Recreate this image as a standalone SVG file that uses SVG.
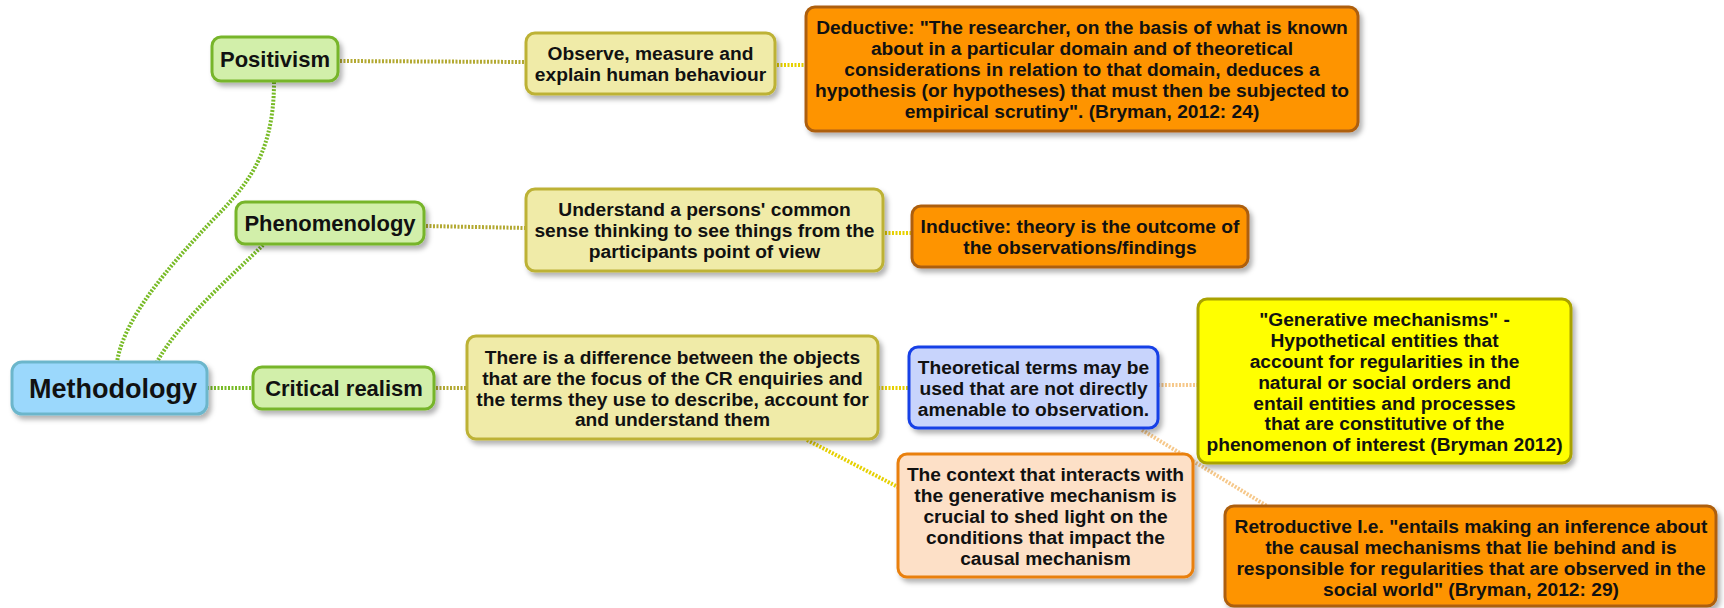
<svg xmlns="http://www.w3.org/2000/svg" width="1724" height="608" viewBox="0 0 1724 608">
  <defs>
    <filter id="shadow" x="-10%" y="-10%" width="130%" height="140%">
      <feDropShadow dx="3" dy="4" stdDeviation="2.5" flood-color="#000" flood-opacity="0.3"/>
    </filter>
    <style>
      .box { stroke-width: 3; filter: url(#shadow); }
      .root { fill: #9bd8fc; stroke: #6cb6cb; }
      .lvl1 { fill: #d2efaa; stroke: #77b52a; }
      .lvl2 { fill: #f0eba8; stroke: #bdb236; }
      .orange { fill: #fe9400; stroke: #ad5f10; }
      .yellow { fill: #ffff00; stroke: #a9a200; }
      .blue { fill: #c8d4fc; stroke: #1840e6; }
      .peach { fill: #fde0c7; stroke: #e9800f; }
      text { font-family: "Liberation Sans", Arial, sans-serif; font-weight: bold; fill: #111; text-anchor: middle; }
      .t0 { font-size: 27px; }
      .t1 { font-size: 22px; }
      .t2 { font-size: 19.2px; }
      .link { fill: none; stroke-width: 4; stroke-dasharray: 2 1.5; }
      .g { stroke: #78bb26; }
      .o { stroke: #b3a932; }
      .y { stroke: #e6d000; }
      .p { stroke: #f6c88a; }
    </style>
  </defs>
  <rect width="1724" height="608" fill="#ffffff"/>

  <!-- connectors -->
  <g id="connectors">
    <path class="link g" d="M274,82 C274,160 242,190 207,226 C168,268 124,318 117,362"/>
    <path class="link g" d="M263,245 C232,276 180,320 157,362"/>
    <path class="link g" d="M207,388 L253,388"/>
    <path class="link o" d="M340,61 L526,62"/>
    <path class="link o" d="M426,226 L526,228"/>
    <path class="link o" d="M436,388 L467,388"/>
    <path class="link y" d="M777,65 L806,65"/>
    <path class="link y" d="M885,233 L912,233"/>
    <path class="link y" d="M878,388 L909,388"/>
    <path class="link y" d="M807,440 L898,487"/>
    <path class="link p" d="M1158,385 L1198,385"/>
    <path class="link p" d="M1142,430 L1267,506"/>
  </g>

  <!-- root -->
  <g id="node-methodology">
    <rect class="box root" x="12" y="362" width="195" height="52" rx="10"/>
    <text class="t0" x="113" y="398">Methodology</text>
  </g>

  <!-- first level -->
  <g id="node-positivism">
    <rect class="box lvl1" x="212" y="37" width="126" height="44" rx="9"/>
    <text class="t1" x="275" y="67">Positivism</text>
  </g>
  <g id="node-phenomenology">
    <rect class="box lvl1" x="236" y="202" width="188" height="42" rx="9"/>
    <text class="t1" x="330" y="231">Phenomenology</text>
  </g>
  <g id="node-critical-realism">
    <rect class="box lvl1" x="253" y="367" width="181" height="42" rx="9"/>
    <text class="t1" x="344" y="396">Critical realism</text>
  </g>

  <!-- second level -->
  <g id="node-observe">
    <rect class="box lvl2" x="526" y="33" width="249" height="61" rx="9"/>
    <text class="t2" x="650.5" y="60">Observe, measure and</text>
    <text class="t2" x="650.5" y="81">explain human behaviour</text>
  </g>
  <g id="node-understand">
    <rect class="box lvl2" x="526" y="189" width="357" height="82" rx="9"/>
    <text class="t2" x="704.5" y="216">Understand a persons' common</text>
    <text class="t2" x="704.5" y="237">sense thinking to see things from the</text>
    <text class="t2" x="704.5" y="258">participants point of view</text>
  </g>
  <g id="node-difference">
    <rect class="box lvl2" x="467" y="336" width="411" height="103" rx="9"/>
    <text class="t2" x="672.5" y="364">There is a difference between the objects</text>
    <text class="t2" x="672.5" y="385">that are the focus of the CR enquiries and</text>
    <text class="t2" x="672.5" y="406">the terms they use to describe, account for</text>
    <text class="t2" x="672.5" y="426">and understand them</text>
  </g>

  <!-- third level -->
  <g id="node-deductive">
    <rect class="box orange" x="806" y="7" width="552" height="124" rx="9"/>
    <text class="t2" x="1082" y="34">Deductive: "The researcher, on the basis of what is known</text>
    <text class="t2" x="1082" y="55">about in a particular domain and of theoretical</text>
    <text class="t2" x="1082" y="76">considerations in relation to that domain, deduces a</text>
    <text class="t2" x="1082" y="97">hypothesis (or hypotheses) that must then be subjected to</text>
    <text class="t2" x="1082" y="118">empirical scrutiny". (Bryman, 2012: 24)</text>
  </g>
  <g id="node-inductive">
    <rect class="box orange" x="912" y="206" width="336" height="61" rx="9"/>
    <text class="t2" x="1080" y="233">Inductive: theory is the outcome of</text>
    <text class="t2" x="1080" y="254">the observations/findings</text>
  </g>
  <g id="node-theoretical">
    <rect class="box blue" x="909" y="347" width="249" height="81" rx="9"/>
    <text class="t2" x="1033.5" y="374">Theoretical terms may be</text>
    <text class="t2" x="1033.5" y="395">used that are not directly</text>
    <text class="t2" x="1033.5" y="416">amenable to observation.</text>
  </g>
  <g id="node-context">
    <rect class="box peach" x="898" y="454" width="295" height="123" rx="9"/>
    <text class="t2" x="1045.5" y="481">The context that interacts with</text>
    <text class="t2" x="1045.5" y="502">the generative mechanism is</text>
    <text class="t2" x="1045.5" y="523">crucial to shed light on the</text>
    <text class="t2" x="1045.5" y="544">conditions that impact the</text>
    <text class="t2" x="1045.5" y="565">causal mechanism</text>
  </g>

  <!-- fourth level -->
  <g id="node-generative">
    <rect class="box yellow" x="1198" y="299" width="373" height="164" rx="9"/>
    <text class="t2" x="1384.5" y="326">"Generative mechanisms" -</text>
    <text class="t2" x="1384.5" y="347">Hypothetical entities that</text>
    <text class="t2" x="1384.5" y="368">account for regularities in the</text>
    <text class="t2" x="1384.5" y="389">natural or social orders and</text>
    <text class="t2" x="1384.5" y="410">entail entities and processes</text>
    <text class="t2" x="1384.5" y="430">that are constitutive of the</text>
    <text class="t2" x="1384.5" y="451">phenomenon of interest (Bryman 2012)</text>
  </g>
  <g id="node-retroductive">
    <rect class="box orange" x="1225" y="506" width="491" height="100" rx="9"/>
    <text class="t2" x="1471" y="533">Retroductive I.e. "entails making an inference about</text>
    <text class="t2" x="1471" y="554">the causal mechanisms that lie behind and is</text>
    <text class="t2" x="1471" y="575">responsible for regularities that are observed in the</text>
    <text class="t2" x="1471" y="596">social world" (Bryman, 2012: 29)</text>
  </g>
</svg>
